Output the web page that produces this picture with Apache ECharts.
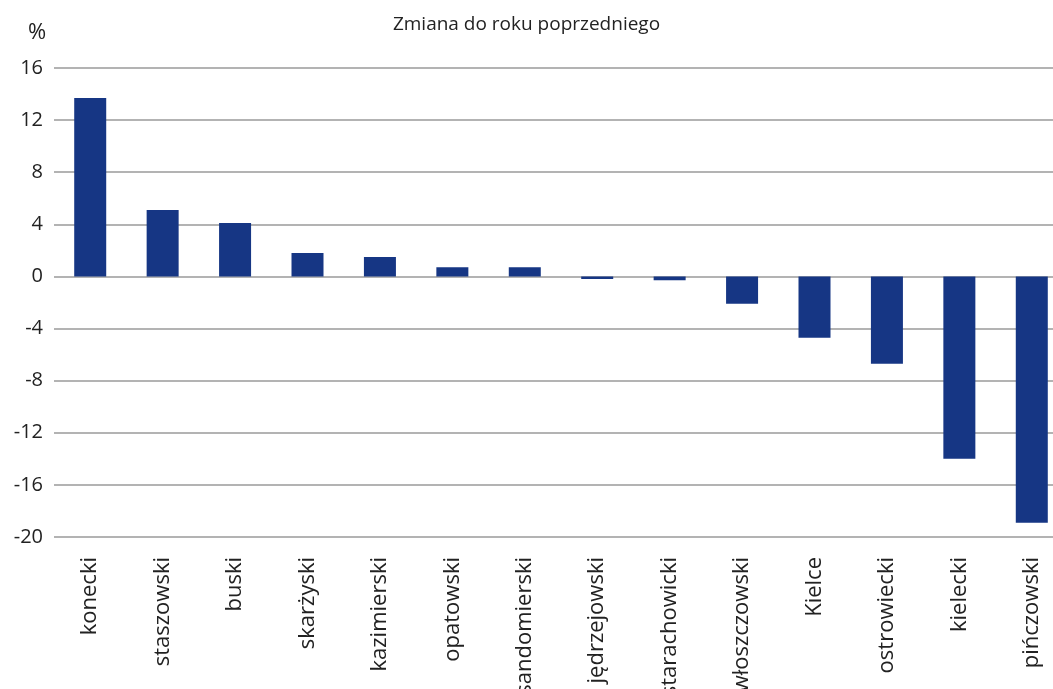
<!DOCTYPE html>
<html>
<head>
<meta charset="utf-8">
<script src="https://cdn.jsdelivr.net/npm/echarts@6/dist/echarts.min.js"></script>
<style>
html,body{margin:0;padding:0;background:#fff;}
#c{width:1053px;height:689px;}
</style>
</head>
<body>
<div id="c"></div>
<script>
var categories = ['konecki','staszowski','buski','skarżyski','kazimierski','opatowski','sandomierski','jędrzejowski','starachowicki','włoszczowski','Kielce','ostrowiecki','kielecki','pińczowski'];
var values = [13.7, 5.1, 4.1, 1.8, 1.5, 0.7, 0.7, -0.2, -0.3, -2.1, -4.7, -6.7, -14.0, -18.9];
var titleText = 'Zmiana do roku poprzedniego';
var unitText = '%';

var chart = echarts.init(document.getElementById('c'), null, {renderer:'canvas'});
var font = '"Open Sans", sans-serif';
chart.setOption({
  animation: false,
  backgroundColor: '#fff',
  title: [
    {text: titleText, left: 'center', top: 10, textStyle: {fontFamily: font, fontSize: 19, fontWeight: 'normal', color: '#222'}},
    {text: unitText, left: 23, top: 17, textStyle: {fontFamily: font, fontSize: 22, fontWeight: 'normal', color: '#222'}}
  ],
  grid: {left: 54, width: 1014, top: 68, bottom: 152, containLabel: false, outerBoundsMode: 'none'},
  xAxis: {
    type: 'category',
    data: categories,
    axisLine: {show: false, onZero: false},
    axisTick: {show: false},
    axisLabel: {rotate: 90, margin: 20, interval: 0, fontFamily: font, fontSize: 22, color: '#222'},
    splitLine: {show: false}
  },
  yAxis: {
    type: 'value',
    min: -20, max: 16, interval: 4,
    axisLine: {show: false},
    axisTick: {show: false},
    axisLabel: {margin: 11, fontFamily: font, fontSize: 20, color: '#222'},
    splitLine: {lineStyle: {color: '#9a9a9a', width: 1.5}}
  },
  series: [{
    type: 'bar',
    data: values,
    barWidth: 32,
    itemStyle: {color: '#163684'}
  }]
});
</script>
</body>
</html>
